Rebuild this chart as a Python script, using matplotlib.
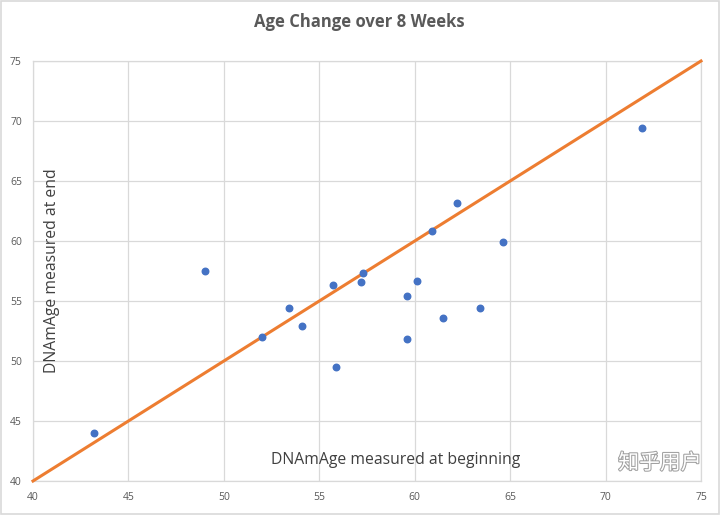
import numpy as np
import matplotlib.pyplot as plt
import matplotlib.patheffects as pe
from matplotlib.patches import Rectangle

# DNAmAge at beginning vs end
age_begin = [43.2, 49.0, 52.0, 53.4, 54.1, 55.7, 55.9, 57.2, 57.3, 59.6,
             59.6, 60.1, 60.9, 61.5, 62.2, 63.4, 64.6, 71.9]
age_end = [44.0, 57.5, 52.0, 54.4, 52.9, 56.3, 49.5, 56.6, 57.3, 55.4,
           51.8, 56.7, 60.8, 53.6, 63.2, 54.4, 59.9, 69.4]
ref_line = [40, 75]
ticks = [40, 45, 50, 55, 60, 65, 70, 75]

plt.rcParams['font.family'] = ['Open Sans', 'DejaVu Sans']

fig = plt.figure(figsize=(7.2, 5.15), dpi=100)
ax = fig.add_axes([33 / 720, 34 / 515, 668 / 720, 420 / 515])

grid_c = '#d9d9d9'
ax.plot(ref_line, ref_line, color='#ed7d31', lw=2.2, zorder=3, clip_on=False)
ax.scatter(age_begin, age_end, s=22, color='#4472c4', zorder=4)

ax.set_xlim(40, 75)
ax.set_ylim(40, 75)
ax.set_xticks(ticks)
ax.set_yticks(ticks)
ax.grid(True, color=grid_c, lw=0.9)
ax.set_axisbelow(True)
for s in ax.spines.values():
    s.set_color(grid_c)
    s.set_linewidth(0.9)
ax.tick_params(length=0, labelsize=7.5, labelcolor='#595959', pad=8)

ax.text(0.029, 0.5, 'DNAmAge measured at end', transform=ax.transAxes,
        rotation=90, ha='center', va='center', fontsize=11.3, color='#404040')
ax.text(0.543, 0.05, 'DNAmAge measured at beginning', transform=ax.transAxes,
        ha='center', va='center', fontsize=11.3, color='#404040')

fig.text(359 / 720, 1 - 22 / 515, 'Age Change over 8 Weeks', ha='center',
         va='center', fontsize=12, fontweight='bold', color='#595959')

fig.text(660 / 720, 1 - 463 / 515, '知乎用户', ha='center', va='center',
         fontsize=15, color='white', family=['Noto Sans CJK SC', 'DejaVu Sans'],
         path_effects=[pe.withStroke(linewidth=1.5, foreground='#a0a0a0')])

fig.patches.append(Rectangle((0.001, 0.001), 0.997, 0.997, transform=fig.transFigure,
                             fill=False, edgecolor='#d9d9d9', lw=1.2))

fig.savefig('out.png', dpi=100)
